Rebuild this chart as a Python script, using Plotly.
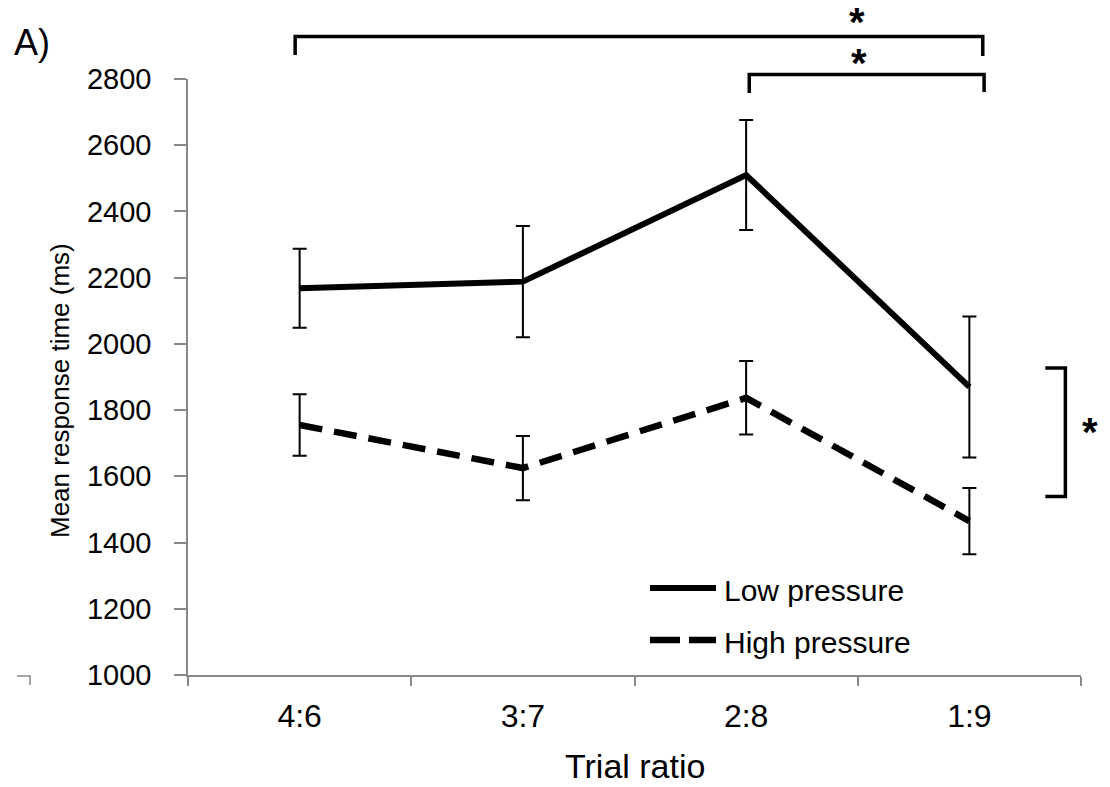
import plotly.graph_objects as go

# ---- data ----
categories = ["4:6", "3:7", "2:8", "1:9"]
low_pressure = [2168, 2188, 2510, 1870]
low_pressure_err = [119, 168, 166, 213]
high_pressure = [1755, 1625, 1837, 1465]
high_pressure_err = [93, 97, 111, 100]
y_ticks = [1000, 1200, 1400, 1600, 1800, 2000, 2200, 2400, 2600, 2800]

FONT = "Liberation Sans, Arial, sans-serif"
AXIS_GRAY = "#888888"

W, H = 1110, 787
ML, MR, MT, MB = 188, 29, 79, 112
PW, PH = W - ML - MR, H - MT - MB


def px(xp):
    return (xp - ML) / PW


def py(yp):
    return (H - MB - yp) / PH


fig = go.Figure()
fig.add_trace(go.Scatter(
    x=categories, y=low_pressure, mode="lines", name="Low pressure",
    line=dict(color="black", width=6),
    error_y=dict(type="data", array=low_pressure_err, color="black", thickness=2, width=7),
))
fig.add_trace(go.Scatter(
    x=categories, y=high_pressure, mode="lines", name="High pressure",
    line=dict(color="black", width=6.5, dash="23px,12px"),
    error_y=dict(type="data", array=high_pressure_err, color="black", thickness=2, width=7),
))

shapes = []
annotations = []

# significance brackets (top)
shapes.append(dict(type="path", xref="x", yref="paper",
                   path=f"M -0.02,{py(55)} L -0.02,{py(36.5)} L 3.06,{py(36.5)} L 3.06,{py(56)}",
                   line=dict(color="black", width=3.5)))
shapes.append(dict(type="path", xref="x", yref="paper",
                   path=f"M 2.014,{py(93)} L 2.014,{py(74.5)} L 3.066,{py(74.5)} L 3.066,{py(92)}",
                   line=dict(color="black", width=3.5)))
# right bracket
shapes.append(dict(type="path", xref="x", yref="y",
                   path="M 3.34,1927 L 3.43,1927 L 3.43,1539 L 3.34,1539",
                   line=dict(color="black", width=3.5)))
# stray axis fragment at bottom-left
shapes.append(dict(type="path", xref="paper", yref="paper",
                   path=f"M {px(17)},{py(676)} L {px(30)},{py(676)} L {px(30)},{py(685)}",
                   line=dict(color=AXIS_GRAY, width=1.5)))

for (xx, yy) in [(857, 17), (859, 58), (1090, 427)]:
    annotations.append(dict(text="<b>*</b>", xref="paper", yref="paper", x=px(xx), y=py(yy + 5),
                            xanchor="center", yanchor="middle", showarrow=False,
                            font=dict(family=FONT, size=40, color="black")))

# manual legend
shapes.append(dict(type="line", xref="paper", yref="paper", x0=px(650), x1=px(716), y0=py(588), y1=py(588),
                   line=dict(color="black", width=6)))
shapes.append(dict(type="line", xref="paper", yref="paper", x0=px(650), x1=px(716), y0=py(640), y1=py(640),
                   line=dict(color="black", width=6.5, dash="30px,9px")))
for txt, yy in [("Low pressure", 590), ("High pressure", 642)]:
    annotations.append(dict(text=txt, xref="paper", yref="paper", x=px(722), y=py(yy),
                            xanchor="left", yanchor="middle", showarrow=False,
                            font=dict(family=FONT, size=30, color="black")))

# panel label & axis titles
annotations.append(dict(text="A)", xref="paper", yref="paper", x=px(12), y=py(43),
                        xanchor="left", yanchor="middle", showarrow=False,
                        font=dict(family=FONT, size=36, color="black")))
annotations.append(dict(text="Trial ratio", xref="paper", yref="paper", x=0.5, y=py(766),
                        xanchor="center", yanchor="middle", showarrow=False,
                        font=dict(family=FONT, size=34, color="black")))
annotations.append(dict(text="Mean response time (ms)", xref="paper", yref="paper", x=px(60), y=py(391),
                        xanchor="center", yanchor="middle", showarrow=False, textangle=-90,
                        font=dict(family=FONT, size=26, color="black")))

fig.update_layout(
    width=W, height=H,
    margin=dict(l=ML, r=MR, t=MT, b=MB),
    paper_bgcolor="white", plot_bgcolor="white",
    showlegend=False,
    shapes=shapes, annotations=annotations,
    font=dict(family=FONT, color="black"),
)
fig.update_xaxes(
    type="category", range=[-0.5, 3.5], showgrid=False, zeroline=False,
    showline=True, linecolor=AXIS_GRAY, linewidth=1.5,
    ticks="outside", tickson="boundaries", ticklen=9, tickcolor=AXIS_GRAY, tickwidth=1.5,
    ticklabelstandoff=12,
    tickfont=dict(family=FONT, size=32, color="black"),
)
fig.update_yaxes(
    range=[1000, 2800], tickvals=y_ticks, showgrid=False, zeroline=False,
    showline=True, linecolor=AXIS_GRAY, linewidth=1.5,
    ticks="outside", ticklen=12, tickcolor=AXIS_GRAY, tickwidth=1.5,
    ticklabelstandoff=17,
    tickfont=dict(family=FONT, size=29, color="black"),
)

fig.write_html("out.html")
